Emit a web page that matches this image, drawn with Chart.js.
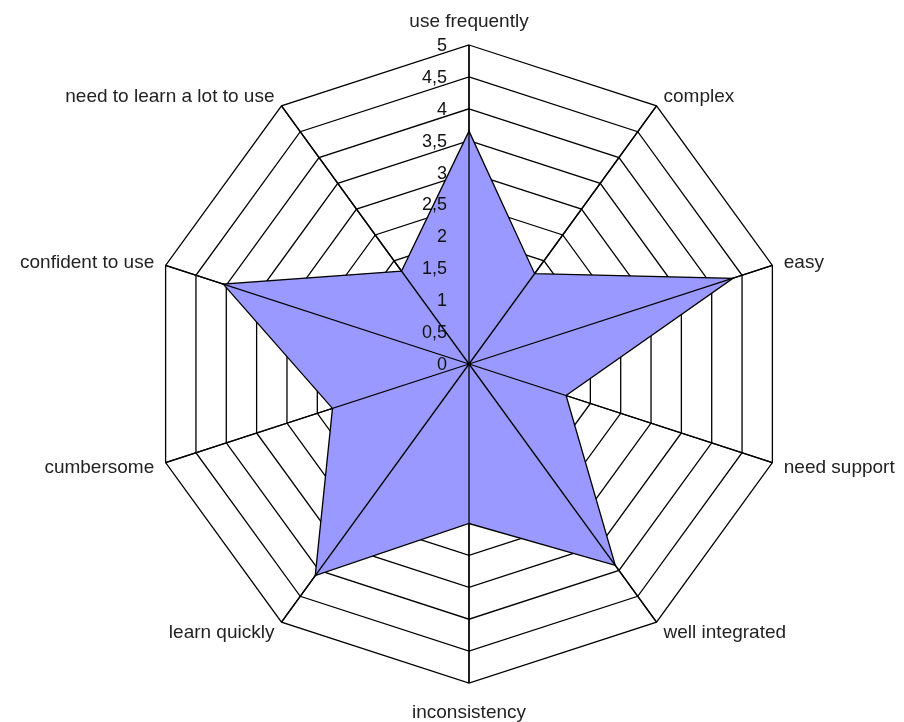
<!DOCTYPE html>
<html>
<head>
<meta charset="utf-8">
<title>Usability radar</title>
<script src="https://cdn.jsdelivr.net/npm/chart.js@4.4.0/dist/chart.umd.min.js"></script>
<style>
  html, body { margin: 0; padding: 0; background: #fff; }
  canvas { display: block; }
</style>
</head>
<body>
<canvas id="radar" width="904" height="722"></canvas>
<script>
// Axes, clockwise from the top
const categories = [
    'use frequently', 'complex', 'easy', 'need support', 'well integrated',
    'inconsistency', 'learn quickly', 'cumbersome', 'confident to use', 'need to learn a lot to use'
];
// Average score per axis
const scores = [3.65, 1.75, 4.35, 1.6, 3.9, 2.5, 4.1, 2.25, 4.05, 1.8];
// Scale ticks, shown with a decimal comma
const tickValues = [0, 0.5, 1, 1.5, 2, 2.5, 3, 3.5, 4, 4.5, 5];
const tickLabels = ['0', '0,5', '1', '1,5', '2', '2,5', '3', '3,5', '4', '4,5', '5'];

const labelFont = 'Liberation Sans, Arial, sans-serif';

// Spokes go on top of the filled area, tick labels sit left of the top spoke,
// axis names are centred on the outer corners (Chart.js would put them above/below)
const overlay = {
    id: 'overlay',
    afterDatasetsDraw(chart) {
        const r = chart.scales.r;
        const ctx = chart.ctx;
        ctx.save();
        ctx.strokeStyle = '#000';
        ctx.lineWidth = 1.3;
        categories.forEach((c, i) => {
            const p = r.getPointPositionForValue(i, r.max);
            ctx.beginPath();
            ctx.moveTo(r.xCenter, r.yCenter);
            ctx.lineTo(p.x, p.y);
            ctx.stroke();
        });

        ctx.fillStyle = '#111';
        ctx.font = '18px ' + labelFont;
        ctx.textAlign = 'right';
        ctx.textBaseline = 'middle';
        tickValues.forEach((v, i) => {
            const y = r.yCenter - r.getDistanceFromCenterForValue(v);
            ctx.fillText(tickLabels[i], r.xCenter - 22, y + 1);
        });

        ctx.fillStyle = '#222';
        ctx.font = '19px ' + labelFont;
        categories.forEach((c, i) => {
            const p = r.getPointPosition(i, r.drawingArea + 12);
            const dx = p.x - r.xCenter;
            if (Math.abs(dx) < 1) {
                ctx.textAlign = 'center';
                if (p.y < r.yCenter) {
                    ctx.textBaseline = 'alphabetic';
                    ctx.fillText(c, p.x, p.y - 6);
                } else {
                    ctx.textBaseline = 'top';
                    ctx.fillText(c, p.x, p.y + 8);
                }
            } else {
                ctx.textAlign = dx > 0 ? 'left' : 'right';
                ctx.textBaseline = 'middle';
                ctx.fillText(c, p.x, p.y + 1);
            }
        });
        ctx.restore();
    }
};

const ctx = document.getElementById('radar').getContext('2d');
const chart = new Chart(ctx, {
    type: 'radar',
    data: {
        labels: categories,
        datasets: [{
            data: scores,
            backgroundColor: '#9999ff',
            borderColor: '#000',
            borderWidth: 1.3,
            pointRadius: 0,
            pointHoverRadius: 0,
            fill: true
        }]
    },
    options: {
        responsive: false,
        devicePixelRatio: 1,
        animation: false,
        layout: {
            padding: { top: 45, bottom: 39, left: 34, right: 0 }
        },
        elements: {
            line: { tension: 0 }
        },
        scales: {
            r: {
                min: 0,
                max: 5,
                ticks: {
                    stepSize: 0.5,
                    display: false
                },
                grid: {
                    color: '#000',
                    lineWidth: 1.3
                },
                angleLines: {
                    color: '#000',
                    lineWidth: 1.3
                },
                pointLabels: {
                    display: false
                }
            }
        },
        plugins: {
            legend: { display: false },
            tooltip: { enabled: false }
        }
    },
    plugins: [overlay]
});
</script>
</body>
</html>
